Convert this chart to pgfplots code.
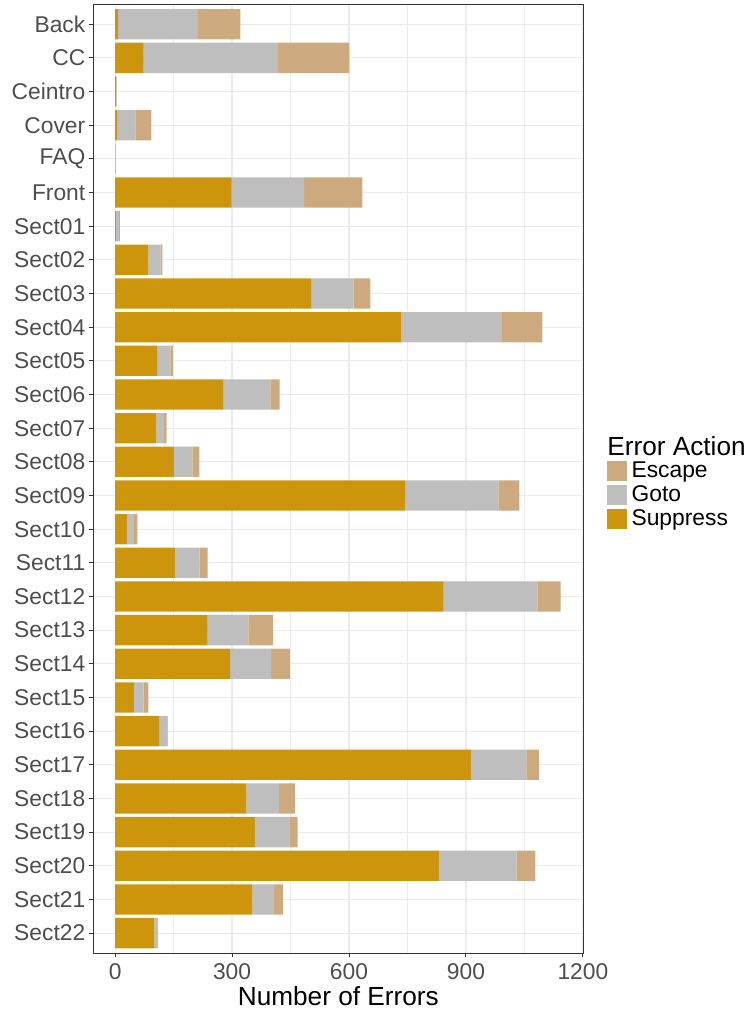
\documentclass[border=0pt]{standalone}
\usepackage{fontspec}
\setmainfont{Liberation Sans}
\usepackage{pgfplots}
\usepackage{pgfplotstable}
\pgfplotsset{compat=1.18}

\definecolor{csup}{HTML}{CD950C}
\definecolor{cgoto}{HTML}{BEBEBE}
\definecolor{cesc}{HTML}{CDAA7D}
\definecolor{gridc}{HTML}{EBEBEB}
\definecolor{frame}{HTML}{333333}
\definecolor{ticktext}{HTML}{4D4D4D}

\pgfplotsset{sqkey/.style={legend image code/.code={\fill[##1] (0pt,-5pt) rectangle (10pt,5pt);}}}

% y = row index (0 = Back at the top), values per error action
\pgfplotstableread{
y sup goto esc
0  8   205 108
1  73  345 183
2  2   0   2
3  5   47  41
4  0   2   0
5  299 186 149
6  2   8   2
7  85  32  4
8  503 109 43
9  733 259 104
10 108 34  6
11 277 121 24
12 106 20  6
13 151 47  18
14 743 240 54
15 30  18  9
16 153 64  20
17 843 240 60
18 237 105 63
19 295 105 48
20 48  25  12
21 113 21  1
22 914 141 33
23 337 83  42
24 360 88  20
25 832 198 48
26 352 56  23
27 101 9   0
}\errtab

\begin{document}
\begin{tikzpicture}
\path[use as bounding box] (-46.65pt,-27.85pt) rectangle (328.35pt,476.65pt);
\begin{axis}[
    at={(0,0)}, anchor=south west,
    scale only axis, width=245pt, height=474.65pt,
    clip=false,
    xbar stacked, bar width=15.15pt,
    xmin=-56, xmax=1201, ymin=-0.6, ymax=27.6, y dir=reverse,
    xtick={0,300,600,900,1200},
    minor xtick={150,450,750,1050},
    ytick={0,...,27},
    yticklabels={Back,CC,Ceintro,Cover,FAQ,Front,Sect01,Sect02,Sect03,Sect04,Sect05,Sect06,Sect07,Sect08,Sect09,Sect10,Sect11,Sect12,Sect13,Sect14,Sect15,Sect16,Sect17,Sect18,Sect19,Sect20,Sect21,Sect22},
    xmajorgrids, ymajorgrids, xminorgrids,
    major grid style={gridc, line width=0.6pt},
    minor grid style={gridc, line width=0.3pt},
    axis line style={frame, line width=0.5pt},
    tick align=outside, major tick length=2pt, minor tick length=0pt,
    tick style={frame, line width=0.5pt},
    xtick pos=bottom, ytick pos=left,
    /pgf/number format/assume math mode=true,
    /pgf/number format/1000 sep={},
    ticklabel style={font=\fontsize{11.4}{11.4}\selectfont, text=ticktext},
    yticklabel style={xshift=1.5pt},
    xticklabel style={yshift=0.5pt},
    xlabel={Number of Errors},
    xlabel style={font=\fontsize{13.1}{13.1}\selectfont, at={(axis description cs:0.5,-0.0555)}, anchor=base},
    reverse legend,
    legend cell align=left,
    legend style={at={(axis description cs:1.0484,0.5207)}, anchor=north west,
        draw=none, fill=none, inner sep=0pt, row sep=0pt,
        font=\fontsize{11.4}{11.4}\selectfont,
        nodes={inner sep=0.6pt, text height=8.6pt, text depth=2.2pt},
        /tikz/every odd column/.style={column sep=1.5pt}},
]
\addplot[fill=csup, draw=none, sqkey] table[x=sup, y=y] {\errtab};
\addlegendentry{Suppress}
\addplot[fill=cgoto, draw=none, sqkey] table[x=goto, y=y] {\errtab};
\addlegendentry{Goto}
\addplot[fill=cesc, draw=none, sqkey] table[x=esc, y=y] {\errtab};
\addlegendentry{Escape}
\node[anchor=base west, inner sep=0pt, font=\fontsize{13.1}{13.1}\selectfont]
    at (axis description cs:1.0484,0.5249) {Error Action};
\end{axis}
\end{tikzpicture}
\end{document}
